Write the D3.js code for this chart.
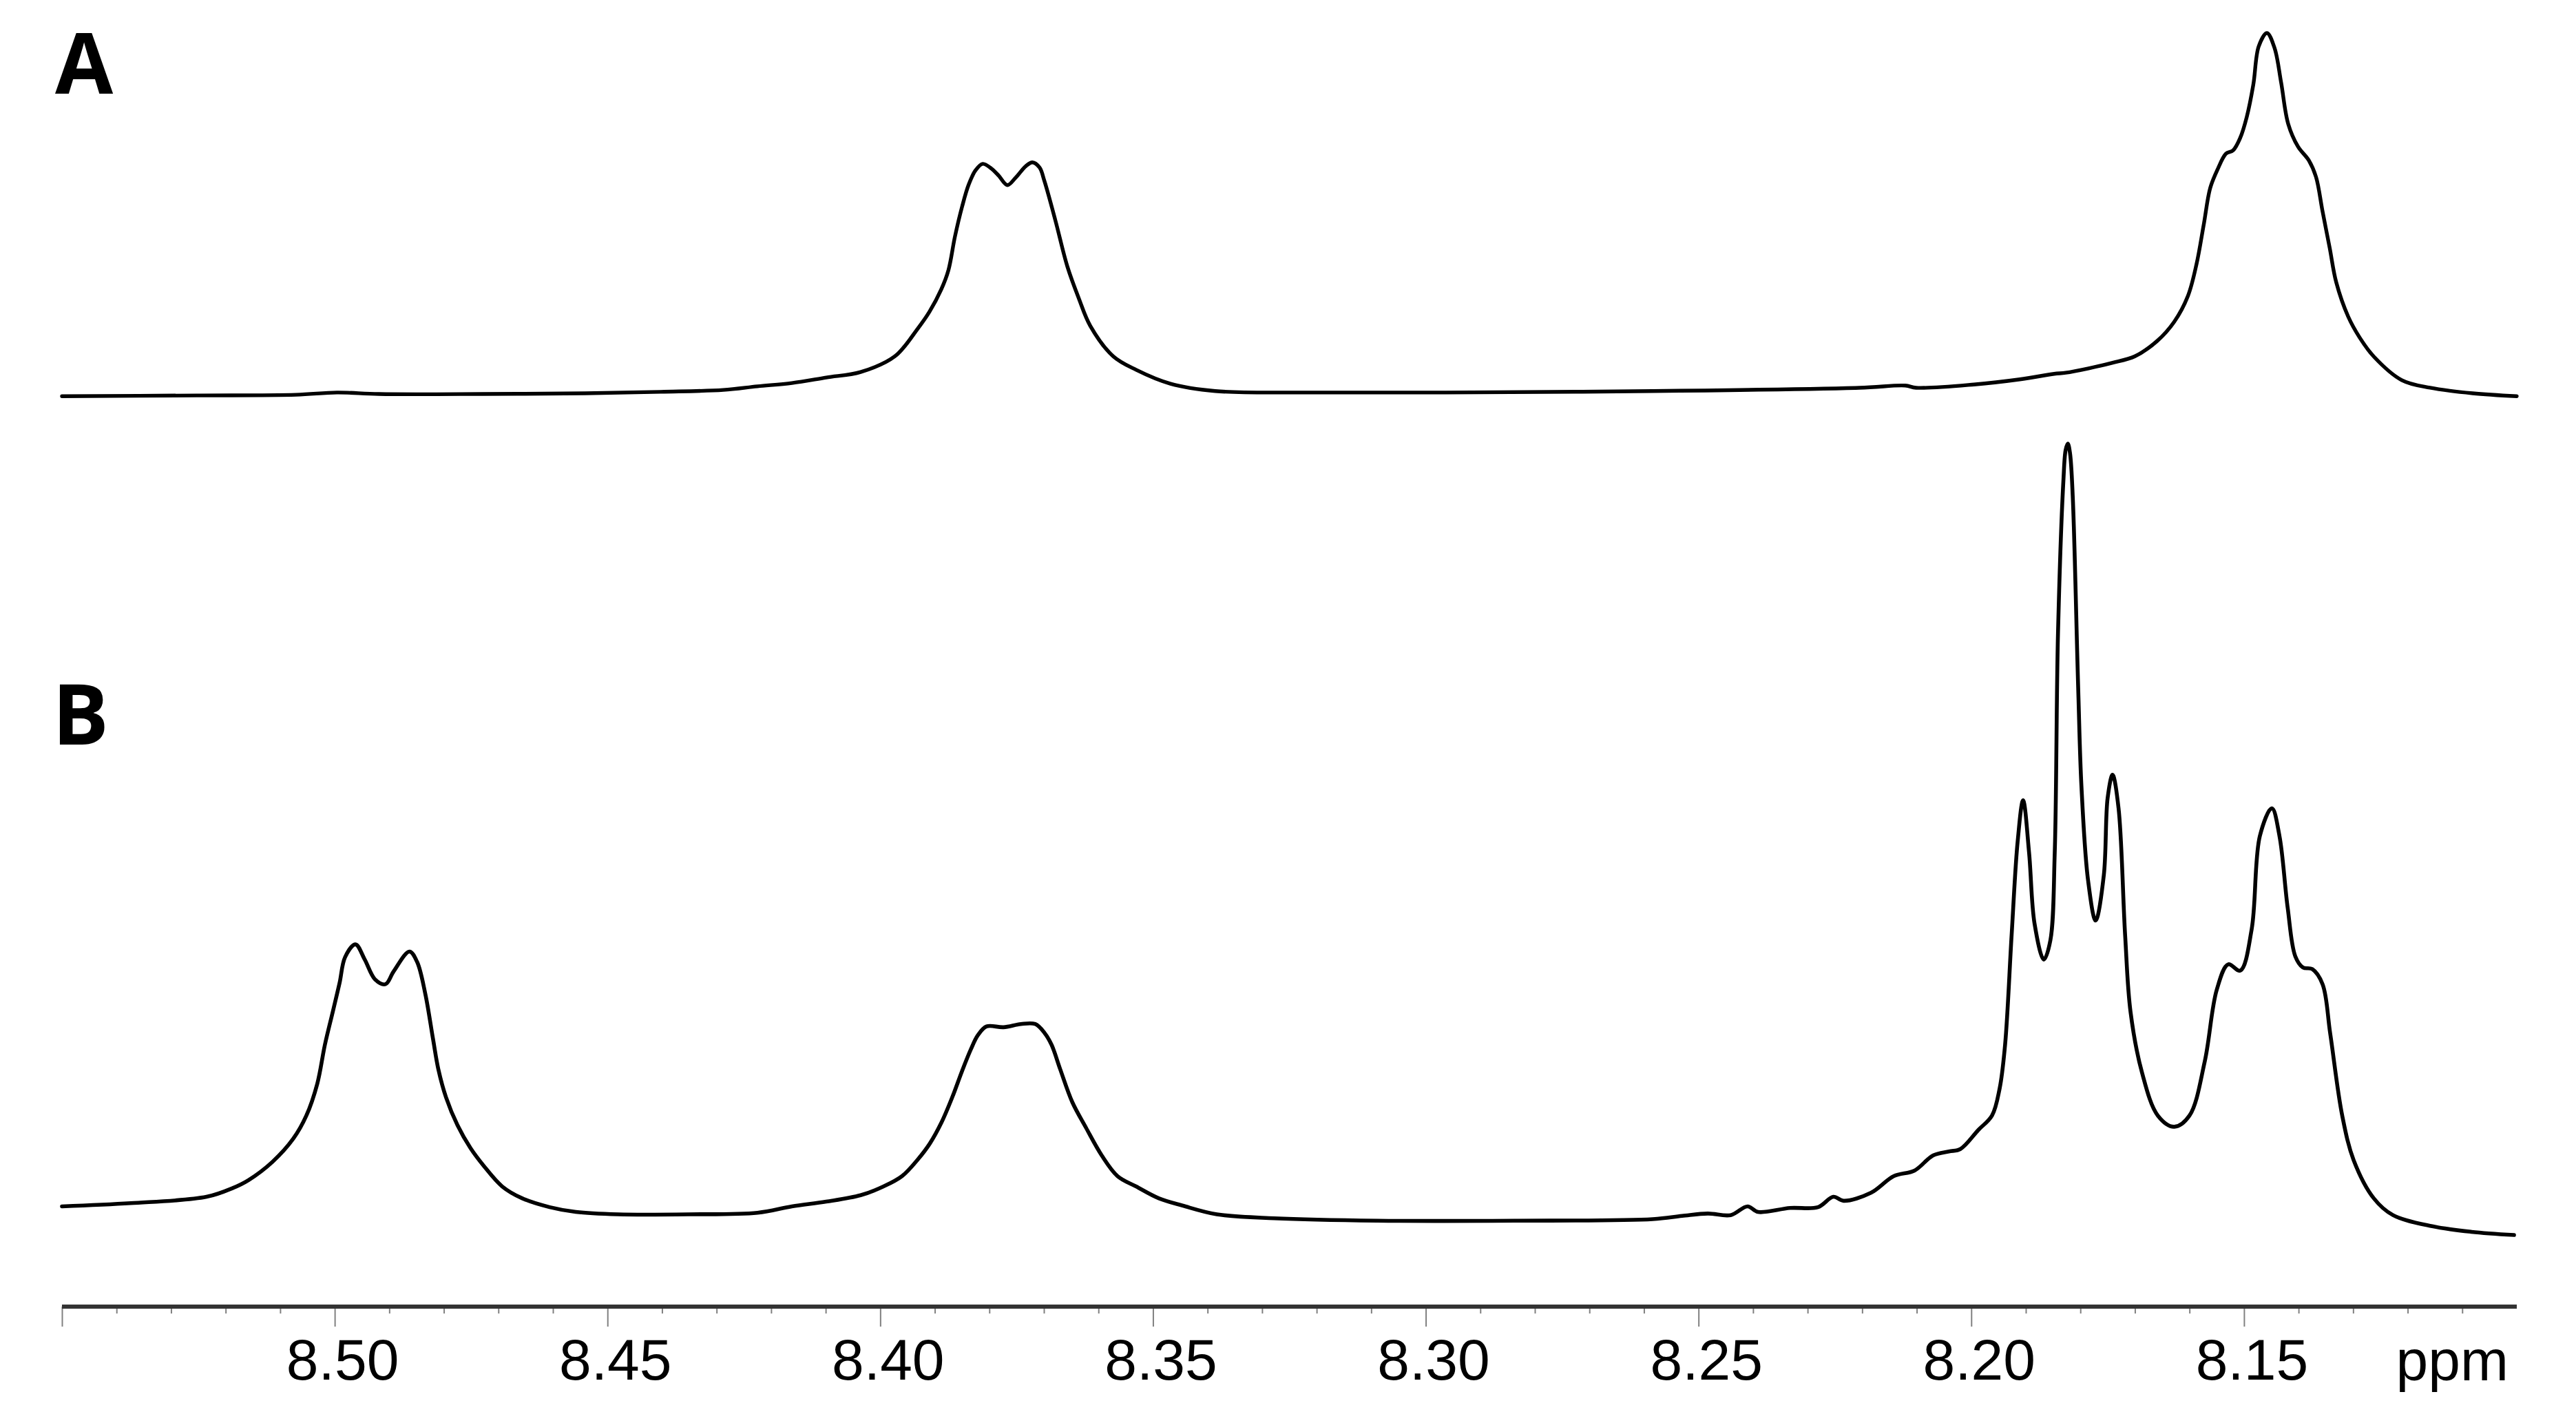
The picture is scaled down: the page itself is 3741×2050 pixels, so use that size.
<!DOCTYPE html>
<html>
<head>
<meta charset="utf-8">
<script src="https://cdn.jsdelivr.net/npm/d3@7"></script>
<style>
  html, body { margin: 0; padding: 0; background: #fff; }
  svg { display: block; }
</style>
</head>
<body>
<svg id="chart" width="3741" height="2050"></svg>
<script>
// ---- Data (chemical shift in ppm, intensity in arbitrary units, tallest peak of each trace = 100) ----
const panelLabels = ["A", "B"];
const axisUnit = "ppm";
const majorTicks = [8.55, 8.50, 8.45, 8.40, 8.35, 8.30, 8.25, 8.20, 8.15];
const tickLabels = ["", "8.50", "8.45", "8.40", "8.35", "8.30", "8.25", "8.20", "8.15"];
const minorTicks = [8.54,8.53,8.52,8.51,8.49,8.48,8.47,8.46,8.44,8.43,8.42,8.41,8.39,8.38,8.37,8.36,
                    8.34,8.33,8.32,8.31,8.29,8.28,8.27,8.26,8.24,8.23,8.22,8.21,8.19,8.18,8.17,8.16,
                    8.14,8.13,8.12,8.11];

// Spectrum A
const ppmA = [8.5500,8.5253,8.5071,8.4996,8.4919,8.4730,8.4541,8.4402,8.4288,8.4225,8.4162,8.4099,8.4036,
  8.3973,8.3931,8.3910,8.3888,8.3875,8.3863,8.3850,8.3838,8.3825,8.3812,8.3796,8.3783,8.3767,8.3752,8.3733,8.3721,8.3708,8.3699,
  8.3679,8.3657,8.3636,8.3615,8.3573,8.3531,8.3468,8.3386,8.3215,8.2963,8.2584,8.2205,8.2121,8.2101,8.1995,
  8.1911,8.1848,8.1827,8.1785,8.1742,8.1700,8.1659,8.1628,8.1603,8.1587,8.1574,8.1562,8.1549,8.1533,8.1520,
  8.1507,8.1495,8.1483,8.1473,8.1458,8.1444,8.1432,8.1419,8.1401,8.1381,8.1368,8.1356,8.1343,8.1331,8.1309,
  8.1288,8.1262,8.1211,8.1159,8.1081,8.1000];
const intensityA = [0.9,1.1,1.3,1.9,1.5,1.5,1.7,2.1,2.6,3.6,4.5,6.0,7.5,
  11.8,19.4,23.9,30.1,35.3,44.5,52.6,58.6,62.6,64.3,63.0,61.1,58.5,60.5,63.7,64.7,63.3,59.6,
  48.9,36.3,27.6,20.1,11.8,8.1,4.3,2.3,1.9,1.9,2.3,3.2,3.8,3.2,4.1,
  5.5,7.0,7.3,8.5,10.0,11.8,16.0,21.2,28.2,37.0,47.6,57.7,62.6,67.1,68.0,
  71.4,77.1,85.9,96.4,100.0,95.9,86.5,75.2,69.0,65.2,60.7,51.3,41.4,32.0,22.6,
  16.9,11.7,5.3,3.2,1.7,0.9];

// Spectrum B
const ppmB = [8.5500,8.5374,8.5235,8.5187,8.5158,8.5114,8.5076,8.5052,8.5032,8.5018,8.5003,8.4991,8.4981,
  8.4962,8.4945,8.4926,8.4907,8.4892,8.4863,8.4849,8.4834,8.4820,8.4810,8.4796,8.4775,8.4751,8.4727,8.4693,
  8.4656,8.4606,8.4558,8.4481,8.4351,8.4225,8.4162,8.4099,8.4036,8.3994,8.3960,8.3931,8.3909,8.3888,8.3868,
  8.3850,8.3834,8.3821,8.3805,8.3774,8.3742,8.3716,8.3699,8.3686,8.3670,8.3648,8.3623,8.3594,8.3565,8.3531,
  8.3489,8.3446,8.3383,8.3278,8.3089,8.2837,8.2584,8.2530,8.2483,8.2441,8.2410,8.2391,8.2332,8.2281,8.2253,
  8.2234,8.2184,8.2142,8.2104,8.2070,8.2041,8.2020,8.1987,8.1962,8.1948,8.1938,8.1926,8.1915,8.1905,8.1894,
  8.1884,8.1867,8.1855,8.1847,8.1841,8.1831,8.1827,8.1823,8.1819,8.1814,8.1804,8.1798,8.1786,8.1772,8.1757,
  8.1750,8.1741,8.1730,8.1718,8.1708,8.1687,8.1658,8.1628,8.1600,8.1572,8.1550,8.1529,8.1507,8.1486,8.1471,
  8.1449,8.1435,8.1420,8.1406,8.1392,8.1375,8.1356,8.1342,8.1320,8.1299,8.1262,8.1227,8.1155,8.1083,8.1005];
const intensityB = [4.2,4.6,5.4,6.5,7.5,9.8,12.7,15.6,19.6,24.5,28.8,32.3,35.5,
  37.1,35.2,32.7,32.1,33.7,36.2,34.9,30.9,25.3,21.4,17.9,14.4,11.5,9.3,6.7,
  5.2,4.1,3.5,3.2,3.2,3.4,4.2,4.8,5.6,6.7,8.0,10.1,12.1,14.7,17.9,
  21.2,23.9,25.7,26.8,26.7,27.1,27.1,26.0,24.5,21.4,17.3,14.1,10.6,8.0,6.7,
  5.2,4.3,3.2,2.7,2.4,2.4,2.6,3.0,3.3,3.1,4.2,3.5,4.0,4.1,5.4,
  4.9,5.9,8.0,8.7,10.6,11.1,11.4,13.8,15.6,19.0,24.5,38.3,50.0,55.2,48.6,
  39.7,35.2,37.6,48.6,76.2,95.5,99.2,100.0,98.8,93.4,69.3,56.9,45.2,40.1,45.8,
  55.5,58.4,54.2,38.3,28.6,21.0,15.6,14.2,15.6,22.4,31.4,34.6,33.8,39.0,50.7,
  54.2,50.7,41.7,35.6,34.2,34.0,32.1,25.9,15.6,10.0,5.2,3.1,1.7,1.0,0.6];

// ---- Layout ----
const svg = d3.select("#chart");
const axisY = 1897;

const x = d3.scaleLinear().domain([8.55, 8.10]).range([90, 3655]);
const yA = d3.scaleLinear().domain([0, 100]).range([580, 48]);
const yB = d3.scaleLinear().domain([0, 100]).range([1800, 644]);

const dataA = ppmA.map((p, i) => ({ p, v: intensityA[i] }));
const dataB = ppmB.map((p, i) => ({ p, v: intensityB[i] }));

const curve = d3.curveCatmullRom.alpha(0.5);
const lineA = d3.line().x(d => x(d.p)).y(d => yA(d.v)).curve(curve);
const lineB = d3.line().x(d => x(d.p)).y(d => yB(d.v)).curve(curve);

svg.append("path").datum(dataA).attr("d", lineA)
  .attr("fill", "none").attr("stroke", "#000").attr("stroke-width", 5.4)
  .attr("stroke-linejoin", "round").attr("stroke-linecap", "round");
svg.append("path").datum(dataB).attr("d", lineB)
  .attr("fill", "none").attr("stroke", "#000").attr("stroke-width", 5.6)
  .attr("stroke-linejoin", "round").attr("stroke-linecap", "round");

// ---- Axis ----
const minorAxis = d3.axisBottom(x).tickValues(minorTicks).tickSize(10).tickFormat("");
const majorAxis = d3.axisBottom(x).tickValues(majorTicks).tickSize(29).tickPadding(17)
  .tickFormat((d, i) => tickLabels[i]);

const gMinor = svg.append("g").attr("transform", `translate(0,${axisY})`).call(minorAxis);
gMinor.select(".domain").remove();
gMinor.selectAll(".tick line").attr("stroke", "#808080").attr("stroke-width", 2);

const gMajor = svg.append("g").attr("transform", `translate(0,${axisY})`).call(majorAxis);
gMajor.select(".domain").remove();
gMajor.selectAll(".tick line").attr("stroke", "#808080").attr("stroke-width", 2);
gMajor.selectAll(".tick text")
  .attr("font-family", "'Liberation Sans', Arial, sans-serif")
  .attr("font-size", 84).attr("fill", "#000").attr("dx", 11);

svg.append("line")
  .attr("x1", x(8.55)).attr("x2", x(8.10))
  .attr("y1", axisY).attr("y2", axisY)
  .attr("stroke", "#333").attr("stroke-width", 6);

svg.append("text").text(axisUnit)
  .attr("x", 3643).attr("y", 2004).attr("text-anchor", "end")
  .attr("font-family", "'Liberation Sans', Arial, sans-serif")
  .attr("font-size", 84).attr("fill", "#000");

// ---- Panel labels ----
const panelPos = [[80, 136], [76, 1081]];
panelLabels.forEach((t, i) => {
  svg.append("text").text(t)
    .attr("x", panelPos[i][0]).attr("y", panelPos[i][1])
    .attr("font-family", "'Open Sans', sans-serif")
    .attr("font-weight", 700).attr("font-size", 122).attr("fill", "#000");
});
</script>
</body>
</html>
